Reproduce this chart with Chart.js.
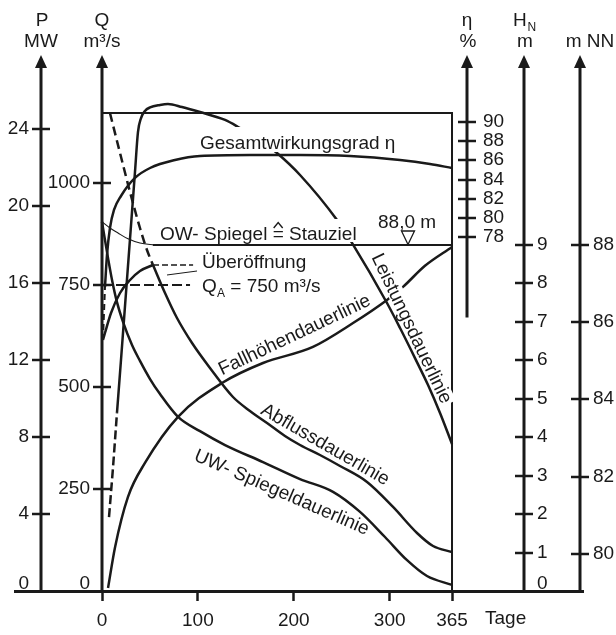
<!DOCTYPE html>
<html><head><meta charset="utf-8">
<script src="https://cdn.jsdelivr.net/npm/chart.js@4.4.0/dist/chart.umd.min.js"></script>
<style>html,body{margin:0;padding:0;background:#fff;}canvas{display:block;}</style>
</head><body>
<canvas id="c" width="616" height="635"></canvas>
<script>
const FONT = '"Liberation Sans", Arial, "DejaVu Sans", sans-serif';
const INK = '#1a1a1a';

// ---- tick labels ----
const DAY_TICKS = [0, 100, 200, 300, 365];
const P_TICKS = [4, 8, 12, 16, 20, 24];
const Q_TICKS = [250, 500, 750, 1000];
const ETA_TICKS = [78, 80, 82, 84, 86, 88, 90];
const H_TICKS = [1, 2, 3, 4, 5, 6, 7, 8, 9];
const NN_TICKS = [80, 82, 84, 86, 88];

// ---- Leistungsdauerlinie (MW) ----
const P_LOW_DAYS = [7.3, 11.5, 15.6];
const P_LOW_MW = [3.84, 6.44, 9.25];
const P_DAYS = [15.6, 19.8, 25.0, 30.2, 34.4, 37.5, 40.7, 44.8, 50.1, 60.5, 68.8, 83.4, 102.2, 128.3, 143.9, 164.8, 182.5, 206.5, 245.1, 260.7, 297.2, 310.8, 326.4, 340.0, 352.5, 365];
const P_MW = [9.25, 12.0, 15.48, 18.96, 21.77, 23.84, 24.57, 24.94, 25.12, 25.25, 25.30, 25.14, 24.88, 24.47, 24.05, 23.43, 22.75, 21.61, 19.27, 18.08, 14.96, 13.66, 12.10, 10.70, 9.25, 7.64];

// ---- Abfluss (m3/s) ----
const Q_NAT_DAYS = [8.3, 18.8, 29.2, 39.6, 46.9, 53.2];
const Q_NAT = [1171.6, 1073.5, 977.9, 889.7, 835.8, 799.0];
const Q_TURB_DAYS = [1.0, 3.1, 9.4, 18.8, 28.2, 39.6, 53.2];
const Q_TURB = [615.2, 632.4, 681.4, 730.4, 759.8, 784.3, 799.0];
const Q_DAYS = [53.2, 65.7, 78.2, 93.9, 112.6, 136.6, 154.3, 172.1, 190.8, 206.5, 227.3, 248.2, 276.4, 303.5, 328.5, 345.2, 365];
const Q_VALUES = [799.0, 730.4, 669.1, 607.8, 546.6, 475.5, 441.2, 411.8, 379.9, 357.8, 333.3, 306.4, 267.2, 205.9, 142.2, 110.3, 95.6];
const QA_DAYS = [0, 91.8];
const QA_VALUES = [750, 750];
const UEBER_DAYS = [53.2, 95.0];
const UEBER_VALUES = [799, 799];
const LEADER_DAYS = [67.8, 99.1];
const LEADER_VALUES = [774.5, 784.3];

// ---- Gesamtwirkungsgrad (%) ----
const ETA_LOW_DAYS = [1.0, 3.1];
const ETA_LOW = [67.25, 72.78];
const ETA_DAYS = [3.1, 5.2, 8.3, 12.5, 19.8, 34.4, 50.1, 76.1, 102.2, 154.3, 206.5, 258.6, 310.8, 342.0, 365];
const ETA_VALUES = [72.78, 76.12, 78.94, 80.82, 82.28, 84.16, 85.20, 86.03, 86.45, 86.56, 86.56, 86.45, 86.03, 85.62, 85.20];

// ---- Fallhöhe (m) ----
const H_DAYS = [6.3, 13.6, 27.1, 44.8, 79.3, 125.1, 167.9, 220.0, 261.8, 297.2, 313.9, 336.8, 365];
const H_VALUES = [0.08, 1.14, 2.45, 3.33, 4.53, 5.41, 5.93, 6.35, 6.97, 7.57, 7.91, 8.46, 8.95];

// ---- Wasserspiegel (m NN) ----
const UW_DAYS = [0, 3.1, 6.3, 10.4, 15.6, 21.9, 31.3, 39.6, 50.1, 60.5, 79.3, 102.2, 128.3, 167.9, 206.5, 240.9, 269.1, 295.1, 318.1, 338.9, 365];
const UW_VALUES = [88.60, 88.13, 87.66, 87.10, 86.52, 86.01, 85.41, 85.00, 84.53, 84.14, 83.55, 83.18, 82.82, 82.38, 81.94, 81.61, 81.09, 80.44, 79.84, 79.43, 79.20];
const OW_DAYS = [0, 8.3, 16.7, 27.1, 39.6, 55.3];
const OW_VALUES = [88.60, 88.44, 88.31, 88.16, 88.05, 88.00];
const STAU_DAYS = [53, 365];
const STAU_VALUES = [88.0, 88.0];

// ---- frame (MW) ----
const FRAME_DAYS = [0, 365, 365];
const FRAME_MW = [24.83, 24.83, 0];

const zip = (xs, ys) => xs.map((x, i) => ({ x: x, y: ys[i] }));
function ds(label, days, vals, axis, extra) {
  return Object.assign({
    label: label, data: zip(days, vals), yAxisID: axis,
    borderColor: INK, borderWidth: 2.5, pointRadius: 0, fill: false,
    cubicInterpolationMode: 'monotone', borderCapStyle: 'butt'
  }, extra || {});
}

const datasets = [
  ds('Rahmen', FRAME_DAYS, FRAME_MW, 'yP', { borderWidth: 2, cubicInterpolationMode: 'default', tension: 0 }),
  ds('Leistung (Teil)', P_LOW_DAYS, P_LOW_MW, 'yP', { borderDash: [9, 4] }),
  ds('Leistungsdauerlinie', P_DAYS, P_MW, 'yP'),
  ds('Abfluss natürlich', Q_NAT_DAYS, Q_NAT, 'yQ', { borderDash: [9, 5] }),
  ds('Turbinenabfluss', Q_TURB_DAYS, Q_TURB, 'yQ'),
  ds('Abflussdauerlinie', Q_DAYS, Q_VALUES, 'yQ'),
  ds('QA', QA_DAYS, QA_VALUES, 'yQ', { borderWidth: 2, borderDash: [10, 4] }),
  ds('Überöffnung', UEBER_DAYS, UEBER_VALUES, 'yQ', { borderWidth: 1.3, borderDash: [6, 3] }),
  ds('Leader', LEADER_DAYS, LEADER_VALUES, 'yQ', { borderWidth: 1 }),
  ds('Wirkungsgrad (Teil)', ETA_LOW_DAYS, ETA_LOW, 'yEta', { borderWidth: 2, borderDash: [6, 4] }),
  ds('Gesamtwirkungsgrad', ETA_DAYS, ETA_VALUES, 'yEta'),
  ds('Fallhöhendauerlinie', H_DAYS, H_VALUES, 'yH'),
  ds('UW-Spiegeldauerlinie', UW_DAYS, UW_VALUES, 'yNN'),
  ds('OW-Spiegel', OW_DAYS, OW_VALUES, 'yNN', { borderWidth: 1.1 }),
  ds('Stauziel', STAU_DAYS, STAU_VALUES, 'yNN', { borderWidth: 2 })
];

const AXES = [
  { id: 'yP', day: -63.6, ticks: P_TICKS, zero: true, side: 'left', gap: 12, bottom: 0 },
  { id: 'yQ', day: 0, ticks: Q_TICKS, zero: true, side: 'left', gap: 12, bottom: 0 },
  { id: 'yEta', day: 380.6, ticks: ETA_TICKS, zero: false, side: 'right', gap: 16, bottom: 69.6 },
  { id: 'yH', day: 440.1, ticks: H_TICKS, zero: true, side: 'right', gap: 13, bottom: 0 },
  { id: 'yNN', day: 498.5, ticks: NN_TICKS, zero: false, side: 'right', gap: 13, bottom: 79.042 }
];

function txt(ctx, s, x, y, o) {
  o = o || {};
  ctx.save();
  ctx.font = (o.size || 19) + 'px ' + FONT;
  ctx.fillStyle = INK;
  ctx.textAlign = o.align || 'left';
  ctx.textBaseline = o.base || 'alphabetic';
  ctx.translate(x, y);
  if (o.rot) ctx.rotate(o.rot * Math.PI / 180);
  if (o.knock) {
    const w = ctx.measureText(s).width;
    ctx.fillStyle = '#fff';
    ctx.fillRect(-w / 2 - 2, -15, w + 4, 16.5);
    ctx.fillStyle = INK;
  }
  ctx.fillText(s, 0, 0);
  const w = ctx.measureText(s).width;
  ctx.restore();
  return w;
}

const overlay = {
  id: 'overlay',
  afterDatasetsDraw(chart) {
    const ctx = chart.ctx;
    // white backings behind labels that interrupt curves
    ctx.save();
    ctx.fillStyle = '#fff';
    ctx.fillRect(196, 127, 194, 25);
    ctx.fillRect(158, 219, 208, 23);
    ctx.restore();
    txt(ctx, 'Gesamtwirkungsgrad η', 200, 149);
    // "OW- Spiegel ≙ Stauziel" with a hat over the equals sign
    let x = 160;
    x += txt(ctx, 'OW- Spiegel ', x, 240);
    const we = txt(ctx, '=', x, 240);
    ctx.save();
    ctx.strokeStyle = INK; ctx.lineWidth = 1.4;
    ctx.beginPath();
    ctx.moveTo(x + we / 2 - 4.5, 228); ctx.lineTo(x + we / 2, 222.5); ctx.lineTo(x + we / 2 + 4.5, 228);
    ctx.stroke();
    ctx.restore();
    x += we;
    txt(ctx, ' Stauziel', x, 240);
    txt(ctx, '88,0 m', 378, 228);
    // Stauziel triangle
    ctx.save();
    ctx.strokeStyle = INK; ctx.lineWidth = 1.3;
    ctx.beginPath();
    ctx.moveTo(401.5, 231); ctx.lineTo(414.5, 231); ctx.lineTo(408, 244.5); ctx.closePath();
    ctx.stroke();
    ctx.restore();
    txt(ctx, 'Überöffnung', 202, 268);
    txt(ctx, 'Q', 202, 292);
    txt(ctx, 'A', 217, 297, { size: 12 });
    txt(ctx, ' = 750 m³/s', 225, 292);
    txt(ctx, 'Fallhöhendauerlinie', 297, 340, { align: 'center', rot: -25.4 });
    txt(ctx, 'Abflussdauerlinie', 322.5, 449.5, { align: 'center', rot: 30.0 });
    txt(ctx, 'UW- Spiegeldauerlinie', 279.5, 497.5, { align: 'center', rot: 23.5 });
    txt(ctx, 'Leistungsdauerlinie', 406.5, 331, { align: 'center', rot: 64.5, knock: true });
    txt(ctx, 'Tage', 485, 624);
  },
  afterDraw(chart) {
    const ctx = chart.ctx, xs = chart.scales.x;
    const TIP = 55, BASE = 68;
    ctx.save();
    ctx.strokeStyle = INK; ctx.fillStyle = INK;
    AXES.forEach(a => {
      const sc = chart.scales[a.id];
      const x = Math.round(xs.getPixelForValue(a.day));
      const yb = sc.getPixelForValue(a.bottom);
      ctx.lineWidth = 3;
      ctx.beginPath(); ctx.moveTo(x, BASE - 1); ctx.lineTo(x, yb); ctx.stroke();
      ctx.beginPath(); ctx.moveTo(x, TIP); ctx.lineTo(x - 6, BASE); ctx.lineTo(x + 6, BASE); ctx.closePath(); ctx.fill();
      ctx.lineWidth = 2.5;
      a.ticks.forEach(v => {
        const y = Math.round(sc.getPixelForValue(v));
        ctx.beginPath(); ctx.moveTo(x - 9, y); ctx.lineTo(x + 9, y); ctx.stroke();
        if (a.side === 'left') txt(ctx, String(v), x - a.gap, y, { align: 'right', base: 'middle' });
        else txt(ctx, String(v), x + a.gap, y, { align: 'left', base: 'middle' });
      });
      if (a.zero) {
        const y0 = sc.getPixelForValue(0) - 7.5;
        if (a.side === 'left') txt(ctx, '0', x - a.gap, y0, { align: 'right', base: 'middle' });
        else txt(ctx, '0', x + a.gap, y0, { align: 'left', base: 'middle' });
      }
    });
    ctx.restore();
    const px = d => Math.round(xs.getPixelForValue(d));
    const xP = px(AXES[0].day), xQ = px(AXES[1].day), xE = px(AXES[2].day), xH = px(AXES[3].day), xN = px(AXES[4].day);
    txt(ctx, 'P', xP + 1, 26, { align: 'center' });
    txt(ctx, 'MW', xP, 47, { align: 'center' });
    txt(ctx, 'Q', xQ, 26, { align: 'center' });
    txt(ctx, 'm³/s', xQ, 47, { align: 'center' });
    txt(ctx, 'η', xE, 26, { align: 'center' });
    txt(ctx, '%', xE + 1, 47, { align: 'center' });
    txt(ctx, 'H', xH - 11, 26);
    txt(ctx, 'N', xH + 3.5, 31, { size: 12 });
    txt(ctx, 'm', xH + 1, 47, { align: 'center' });
    txt(ctx, 'm NN', xN + 10, 47, { align: 'center' });
  }
};

const hidden = (min, max) => ({ type: 'linear', axis: 'y', position: 'left', display: false, min: min, max: max });

new Chart(document.getElementById('c'), {
  type: 'line',
  data: { datasets: datasets },
  options: {
    responsive: false,
    animation: false,
    devicePixelRatio: 1,
    layout: { padding: { left: 15, right: 33, top: 10, bottom: 0 } },
    plugins: { legend: { display: false }, tooltip: { enabled: false } },
    scales: {
      x: {
        type: 'linear', min: -90.73, max: 501.6,
        afterBuildTicks: s => { s.ticks = DAY_TICKS.map(v => ({ value: v })); },
        afterFit: s => { s.height = 44; },
        grid: { drawOnChartArea: false, drawTicks: true, tickLength: 10, tickWidth: 2.5, tickColor: INK, color: INK },
        border: { display: true, width: 3, color: INK },
        ticks: { font: { family: FONT, size: 19 }, color: INK, padding: 8, maxRotation: 0, autoSkip: false, callback: v => String(v) }
      },
      yP: hidden(0, 30.182),
      yQ: hidden(0, 1424.0),
      yEta: hidden(41.061, 101.687),
      yH: hidden(0, 15.113),
      yNN: hidden(79.042, 94.084)
    }
  },
  plugins: [overlay]
});
</script>
</body></html>
